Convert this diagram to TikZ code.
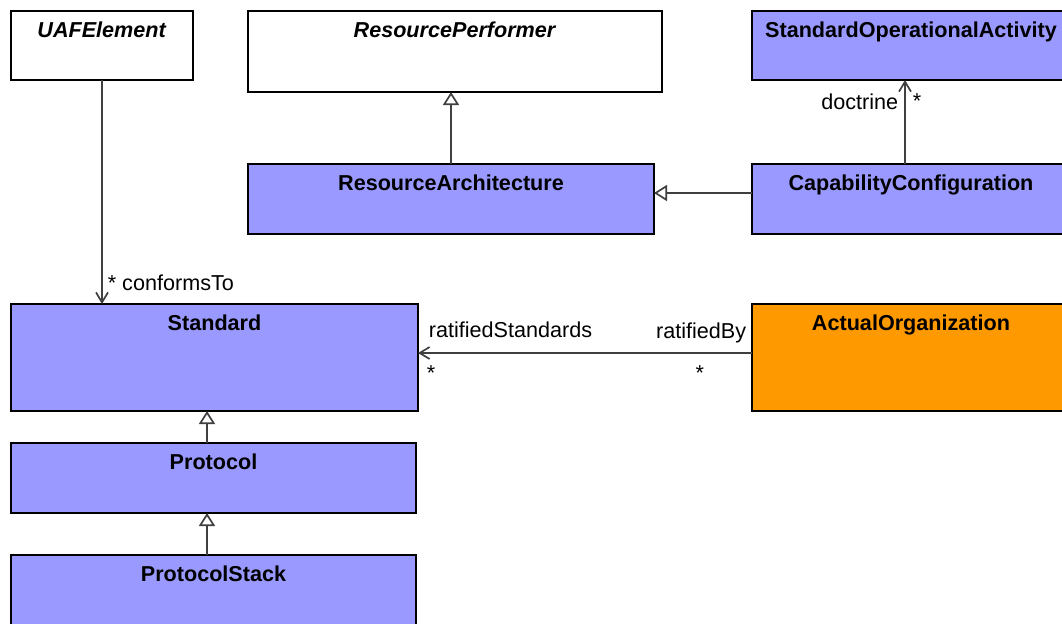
\documentclass[tikz,border=0pt]{standalone}
\usepackage{fontspec}
\setmainfont{Liberation Sans}
\usepackage{tikz}
\usetikzlibrary{arrows.meta}
\definecolor{umlblue}{HTML}{9999FF}
\definecolor{umlorange}{HTML}{FF9900}
\definecolor{linegray}{HTML}{404040}
\tikzset{
  cls/.style={draw=black, line width=0.8pt, fill=umlblue, anchor=north west, outer sep=0pt, inner sep=0pt},
  abstr/.style={cls, fill=white},
  title/.style={anchor=north, yshift=-5.3pt, inner sep=0pt, font=\fontsize{10.8}{13}\selectfont\bfseries},
  assoc/.style={draw=linegray, line width=0.85pt, -{Straight Barb[length=5pt,width=6pt]}},
  gen/.style={draw=linegray, line width=0.85pt, -{Triangle[open,fill=white,length=6.5pt,width=8pt]}},
  role/.style={inner sep=2pt, font=\fontsize{10.8}{13}\selectfont},
}

\begin{document}
\begin{tikzpicture}[x=0.5pt, y=-0.5pt]
\clip (0,0) rectangle (1062,623);
% top row
\node[abstr, minimum width=91pt, minimum height=34.5pt, label={[title]north:\textit{UAFElement}}] (uaf) at (11,11) {};
\node[abstr, minimum width=207pt, minimum height=40.5pt, label={[title]north:\textit{ResourcePerformer}}] (rp) at (248,11) {};
\node[cls, minimum width=159pt, minimum height=34.5pt, label={[title]north:StandardOperationalActivity}] (soa) at (752,11) {};
% second row
\node[cls, minimum width=203pt, minimum height=35pt, label={[title]north:ResourceArchitecture}] (ra) at (248,164) {};
\node[cls, minimum width=159pt, minimum height=35pt, label={[title]north:CapabilityConfiguration}] (cc) at (752,164) {};
% standards
\node[cls, minimum width=203.5pt, minimum height=53.5pt, label={[title]north:Standard}] (std) at (11,304) {};
\node[cls, fill=umlorange, minimum width=159pt, minimum height=53.5pt, label={[title]north:ActualOrganization}] (ao) at (752,304) {};
\node[cls, minimum width=202.5pt, minimum height=35pt, label={[title]north:Protocol}] (pr) at (11,443) {};
\node[cls, minimum width=202.5pt, minimum height=35pt, label={[title]north:ProtocolStack}] (ps) at (11,555) {};

% connectors
\draw[assoc] (uaf.south) -- (uaf.south |- std.north)
  node[role, pos=1, anchor=south west, xshift=0.5pt, yshift=4pt] {* conformsTo};
\draw[gen] (ra.north) -- (ra.north |- rp.south);
\draw[gen] ([yshift=3pt]cc.west) -- ([yshift=3pt]ra.east);
\draw[assoc] ([xshift=-3pt]cc.north) -- ([xshift=-3pt]soa.south)
  node[role, pos=1, anchor=north east, xshift=-1pt, yshift=-4.3pt] {doctrine}
  node[role, pos=1, anchor=north west, xshift=1.5pt, yshift=-4.3pt] {*};
\draw[assoc] ([yshift=2.25pt]ao.west) -- ([yshift=2.25pt]std.east)
  node[role, pos=1, anchor=south west, xshift=3pt, yshift=5pt] {ratifiedStandards}
  node[role, pos=1, anchor=north west, xshift=2pt, yshift=-4pt] {*}
  node[role, pos=0, anchor=south east, xshift=-0.5pt, yshift=2.7pt] {ratifiedBy}
  node[role, pos=0, anchor=north east, xshift=-21.5pt, yshift=-4pt] {*};
\draw[gen] ([xshift=-3.25pt]pr.north) -- ([xshift=-3.25pt]pr.north |- std.south);
\draw[gen] ([xshift=-3.25pt]ps.north) -- ([xshift=-3.25pt]ps.north |- pr.south);
\end{tikzpicture}
\end{document}
